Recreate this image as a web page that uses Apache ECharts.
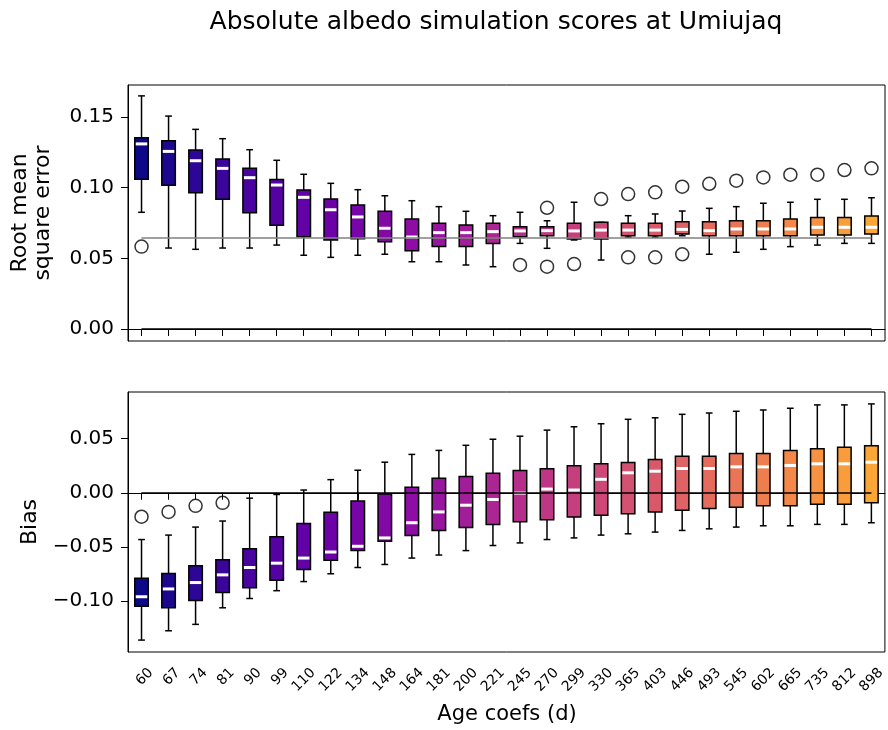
<!DOCTYPE html>
<html><head><meta charset="utf-8">
<script src="https://cdn.jsdelivr.net/npm/echarts@6/dist/echarts.min.js"></script>
<style>html,body{margin:0;padding:0;background:#fff}#c{width:888px;height:730px}</style>
</head><body><div id="c"></div>
<script>
const categories = ['60','67','74','81','90','99','110','122','134','148','164','181','200','221','245','270','299','330','365','403','446','493','545','602','665','735','812','898'];

const rmseLow    = [0.0826,0.0573,0.0564,0.0573,0.0573,0.0594,0.0522,0.0507,0.0522,0.0529,0.0476,0.0476,0.0453,0.0441,0.0606,0.0571,0.0630,0.0488,0.0650,0.0650,0.0660,0.0529,0.0543,0.0564,0.0583,0.0594,0.0606,0.0606];
const rmseQ1     = [0.1060,0.1017,0.0965,0.0918,0.0823,0.0734,0.0653,0.0630,0.0639,0.0618,0.0554,0.0583,0.0583,0.0606,0.0653,0.0660,0.0637,0.0637,0.0660,0.0660,0.0672,0.0660,0.0660,0.0660,0.0660,0.0665,0.0665,0.0672];
const rmseMedian = [0.1310,0.1257,0.1191,0.1137,0.1071,0.1019,0.0932,0.0844,0.0793,0.0713,0.0651,0.0682,0.0682,0.0689,0.0694,0.0696,0.0694,0.0700,0.0700,0.0700,0.0705,0.0696,0.0708,0.0708,0.0708,0.0720,0.0720,0.0720];
const rmseQ3     = [0.1354,0.1333,0.1267,0.1203,0.1137,0.1059,0.0984,0.0920,0.0878,0.0833,0.0778,0.0748,0.0736,0.0748,0.0724,0.0724,0.0748,0.0755,0.0748,0.0748,0.0759,0.0759,0.0766,0.0766,0.0778,0.0790,0.0790,0.0800];
const rmseHigh   = [0.1650,0.1507,0.1413,0.1347,0.1269,0.1194,0.1095,0.1031,0.0986,0.0943,0.0908,0.0866,0.0833,0.0802,0.0826,0.0766,0.0897,0.0755,0.0802,0.0814,0.0835,0.0854,0.0866,0.0890,0.0897,0.0918,0.0918,0.0929];
const rmseOutliers = [['60',0.0583],['245',0.0453],['270',0.0858],['270',0.0441],['299',0.0460],['330',0.0920],['365',0.0955],['365',0.0507],['403',0.0967],['403',0.0507],['446',0.1007],['446',0.0529],['493',0.1028],['545',0.1050],['602',0.1073],['665',0.1092],['735',0.1092],['812',0.1125],['898',0.1137]];
const rmseReference = 0.0646;

const biasLow    = [-0.1360,-0.1274,-0.1215,-0.1062,-0.0976,-0.0904,-0.0820,-0.0748,-0.0690,-0.0662,-0.0603,-0.0575,-0.0534,-0.0487,-0.0463,-0.0432,-0.0417,-0.0391,-0.0379,-0.0363,-0.0348,-0.0333,-0.0317,-0.0305,-0.0305,-0.0292,-0.0292,-0.0277];
const biasQ1     = [-0.1047,-0.1062,-0.0994,-0.0920,-0.0876,-0.0808,-0.0708,-0.0622,-0.0534,-0.0447,-0.0394,-0.0348,-0.0320,-0.0292,-0.0267,-0.0249,-0.0224,-0.0208,-0.0193,-0.0177,-0.0161,-0.0146,-0.0133,-0.0121,-0.0121,-0.0105,-0.0105,-0.0093];
const biasMedian = [-0.0960,-0.0888,-0.0829,-0.0758,-0.0690,-0.0650,-0.0603,-0.0547,-0.0494,-0.0417,-0.0277,-0.0177,-0.0115,-0.0062,-0.0003,0.0034,0.0025,0.0124,0.0184,0.0199,0.0224,0.0224,0.0239,0.0239,0.0252,0.0267,0.0267,0.0282];
const biasQ3     = [-0.0789,-0.0746,-0.0674,-0.0618,-0.0516,-0.0407,-0.0283,-0.0180,-0.0077,-0.0012,0.0050,0.0133,0.0149,0.0180,0.0205,0.0221,0.0249,0.0267,0.0280,0.0308,0.0336,0.0336,0.0363,0.0363,0.0391,0.0407,0.0419,0.0435];
const biasHigh   = [-0.0432,-0.0391,-0.0317,-0.0261,-0.0050,-0.0016,0.0025,0.0121,0.0208,0.0282,0.0354,0.0391,0.0438,0.0494,0.0522,0.0578,0.0609,0.0637,0.0678,0.0692,0.0724,0.0736,0.0752,0.0764,0.0780,0.0811,0.0811,0.0820];
const biasOutliers = [['60',-0.0221],['67',-0.0177],['74',-0.0121],['81',-0.0093]];
const biasReference = 0.0;
const rmseZero = 0.0;

const rmseTicks = [0.00, 0.05, 0.10, 0.15];
const biasTicks = [-0.10, -0.05, 0.00, 0.05];

const FONT = 'DejaVu Sans';

// plasma colormap anchors (style only)
const plasma = ['#0d0887','#41049d','#6a00a8','#8f0da4','#b12a90','#cc4778','#e16462','#f2844b','#fca636','#fcce25','#f0f921'];
function hex2rgb(h){return [parseInt(h.slice(1,3),16),parseInt(h.slice(3,5),16),parseInt(h.slice(5,7),16)];}
function plasmaAt(t){
  const p = t*10, i = Math.min(9, Math.floor(p)), f = p - i;
  const a = hex2rgb(plasma[i]), b = hex2rgb(plasma[i+1]);
  return 'rgb(' + a.map((v,k)=>Math.round(v+(b[k]-v)*f)).join(',') + ')';
}
const boxColors = categories.map((c,i)=>plasmaAt(i/(categories.length-1)*0.8));

function boxData(low,q1,med,q3,high){
  return categories.map((c,i)=>[i, low[i], q1[i], med[i], q3[i], high[i]]);
}
function renderBox(params, api){
  const i = api.value(0);
  const pLow = api.coord([i, api.value(1)]);
  const pQ1 = api.coord([i, api.value(2)]);
  const pMed = api.coord([i, api.value(3)]);
  const pQ3 = api.coord([i, api.value(4)]);
  const pHigh = api.coord([i, api.value(5)]);
  const band = api.size([1, 0])[0];
  const bw = band * 0.5, cw = bw * 0.5;
  const xc = pQ1[0];
  const blk = {stroke:'#000', lineWidth:1.5, fill:null};
  return {type:'group', children:[
    {type:'line', shape:{x1:xc,y1:pLow[1],x2:xc,y2:pQ1[1]}, style:blk},
    {type:'line', shape:{x1:xc,y1:pQ3[1],x2:xc,y2:pHigh[1]}, style:blk},
    {type:'line', shape:{x1:xc-cw/2,y1:pLow[1],x2:xc+cw/2,y2:pLow[1]}, style:blk},
    {type:'line', shape:{x1:xc-cw/2,y1:pHigh[1],x2:xc+cw/2,y2:pHigh[1]}, style:blk},
    {type:'rect', shape:{x:xc-bw/2,y:pQ3[1],width:bw,height:pQ1[1]-pQ3[1]}, style:{fill:boxColors[i], stroke:'#000', lineWidth:1.5}},
    {type:'line', shape:{x1:xc-bw/2+1,y1:pMed[1],x2:xc+bw/2-1,y2:pMed[1]}, style:{stroke:'#fff', lineWidth:3}}
  ]};
}
const fmt = v => (Math.abs(v) < 1e-9 ? '0.00' : v.toFixed(2)).replace('-', '\u2212');

function xAxisCfg(idx, showLabels){
  return {gridIndex:idx, type:'category', data:categories, boundaryGap:true,
    axisLine:{show:true, lineStyle:{color:'#000', width:1}},
    axisTick:{show:true, alignWithLabel:true, length:7, lineStyle:{color:'#000', width:1}},
    axisLabel:{show:showLabels, rotate:45, margin:9, fontSize:14, fontFamily:FONT, color:'#000', interval:0,
      formatter: v => '{t|' + v + '}',
      rich:{t:{padding:[27,0,0,0], fontSize:14, fontFamily:FONT, color:'#000'}}},
    splitLine:{show:false}};
}
function yAxisCfg(idx, min, max, ticks){
  return {gridIndex:idx, type:'value', min:min, max:max,
    axisLine:{show:true, lineStyle:{color:'#000', width:1}},
    axisTick:{show:true, length:7, customValues:ticks, lineStyle:{color:'#000', width:1}},
    axisLabel:{customValues:ticks, formatter:fmt, fontSize:20, fontFamily:FONT, color:'#000', margin:14},
    splitLine:{show:false}};
}
function refLine(value, color){
  return [{coord:[categories[0], value], lineStyle:{color:color, width:1.5, type:'solid'}}, {coord:[categories[categories.length-1], value]}];
}

const chart = echarts.init(document.getElementById('c'), null, {renderer:'canvas'});
chart.setOption({
  animation:false,
  backgroundColor:'#fff',
  textStyle:{fontFamily:FONT},
  grid:[
    {left:128, top:85, width:757, height:256, show:true, borderColor:'#000', borderWidth:1, backgroundColor:'transparent'},
    {left:128, top:392, width:757, height:260, show:true, borderColor:'#000', borderWidth:1, backgroundColor:'transparent'}
  ],
  xAxis:[xAxisCfg(0,false), xAxisCfg(1,true)],
  yAxis:[yAxisCfg(0,-0.0085,0.1727,rmseTicks), yAxisCfg(1,-0.147,0.093,biasTicks)],
  graphic:[
    {type:'text', x:496, y:22, style:{text:'Absolute albedo simulation scores at Umiujaq', fontSize:25, fontFamily:FONT, fill:'#000', textAlign:'center', textVerticalAlign:'middle', align:'center', verticalAlign:'middle'}},
    {type:'text', x:32, y:213, rotation:Math.PI/2, style:{text:'Root mean\nsquare error', fontSize:22, lineHeight:23, fontFamily:FONT, fill:'#000', textAlign:'center', textVerticalAlign:'middle', align:'center', verticalAlign:'middle'}},
    {type:'text', x:30, y:522, rotation:Math.PI/2, style:{text:'Bias', fontSize:22, fontFamily:FONT, fill:'#000', textAlign:'center', textVerticalAlign:'middle', align:'center', verticalAlign:'middle'}},
    {type:'text', x:507, y:715, style:{text:'Age coefs (d)', fontSize:21, fontFamily:FONT, fill:'#000', textAlign:'center', textVerticalAlign:'middle', align:'center', verticalAlign:'middle'}}
  ],
  series:[
    {type:'custom', name:'RMSE', xAxisIndex:0, yAxisIndex:0, renderItem:renderBox, encode:{x:0, y:[1,2,3,4,5]}, data:boxData(rmseLow,rmseQ1,rmseMedian,rmseQ3,rmseHigh), z:2},
    {type:'custom', name:'Bias', xAxisIndex:1, yAxisIndex:1, renderItem:renderBox, encode:{x:0, y:[1,2,3,4,5]}, data:boxData(biasLow,biasQ1,biasMedian,biasQ3,biasHigh), z:2},
    {type:'scatter', name:'RMSE outliers', xAxisIndex:0, yAxisIndex:0, data:rmseOutliers, symbol:'circle', symbolSize:13,
      itemStyle:{color:'rgba(0,0,0,0)', borderColor:'#000', borderWidth:1.5}, z:4,
      markLine:{silent:true, symbol:['none','none'], label:{show:false}, animation:false, z:5,
        data:[refLine(rmseReference,'#808080'), refLine(rmseZero,'#000')]}},
    {type:'scatter', name:'Bias outliers', xAxisIndex:1, yAxisIndex:1, data:biasOutliers, symbol:'circle', symbolSize:13,
      itemStyle:{color:'rgba(0,0,0,0)', borderColor:'#000', borderWidth:1.5}, z:4,
      markLine:{silent:true, symbol:['none','none'], label:{show:false}, animation:false, z:5,
        data:[refLine(biasReference,'#000')]}}
  ]
});
</script></body></html>
